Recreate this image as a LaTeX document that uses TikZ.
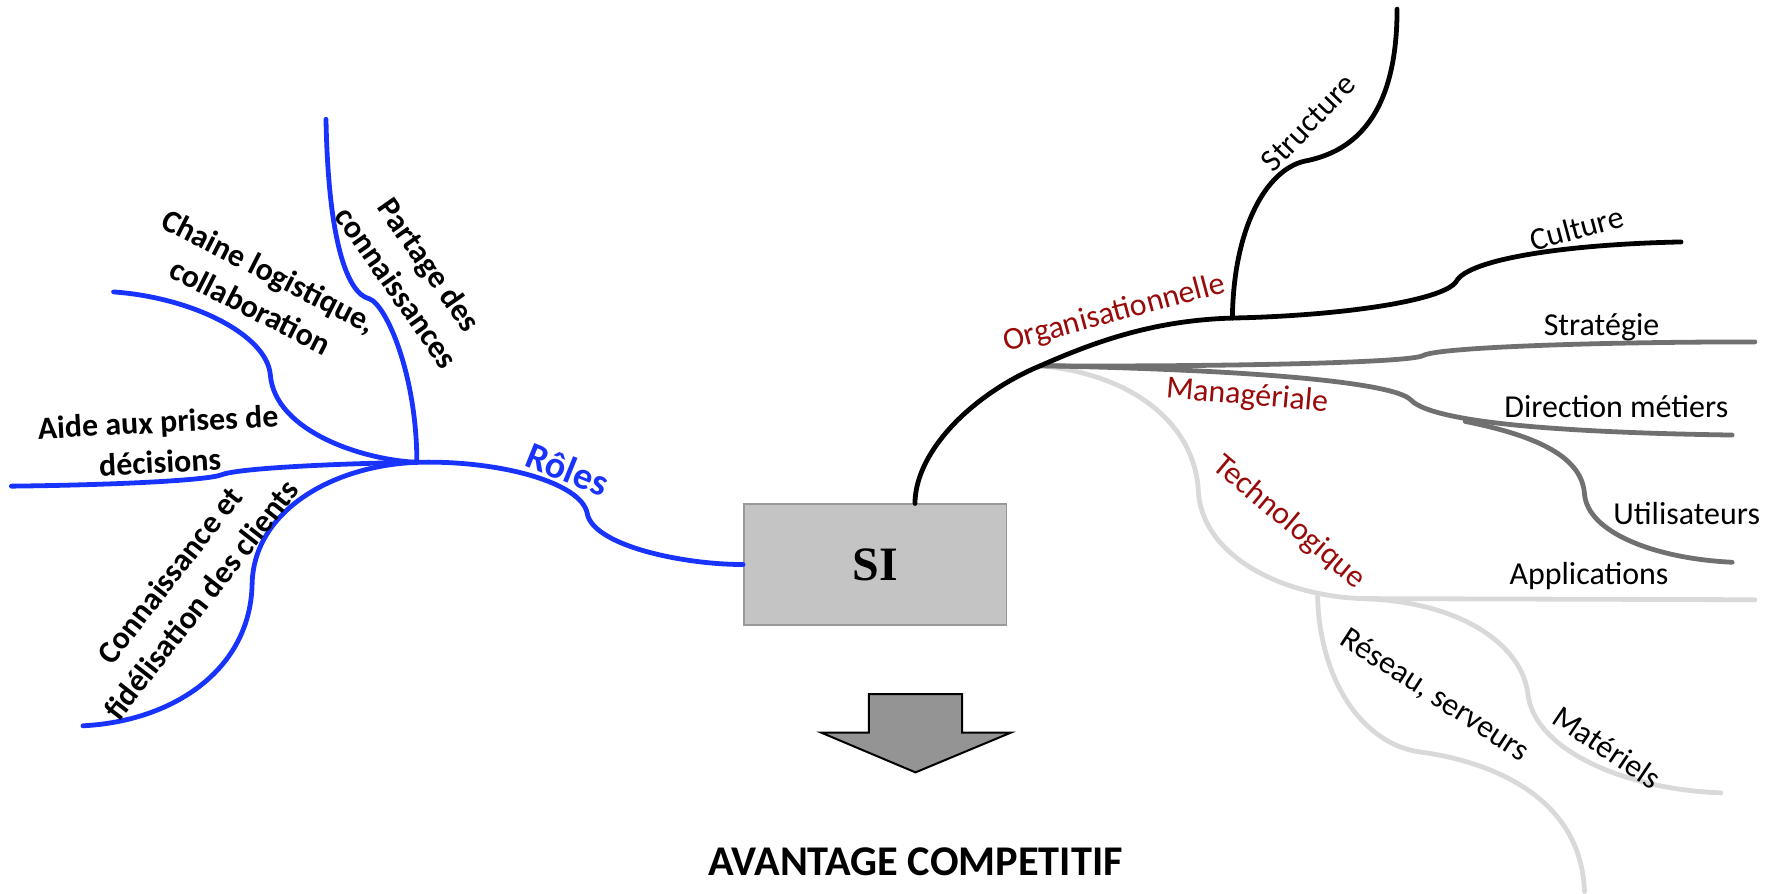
\documentclass[tikz,border=0pt]{standalone}
\usepackage{fontspec}
\setmainfont{Carlito}
\newfontfamily\serifbold{Liberation Serif}
\usetikzlibrary{positioning}
\definecolor{mblue}{rgb}{0.1, 0.2, 1}
\definecolor{mred}{rgb}{0.6, 0.04, 0.04}
\definecolor{mgray}{rgb}{0.44, 0.44, 0.44}
\definecolor{lgray}{rgb}{0.85, 0.85, 0.85}
\definecolor{boxgray}{rgb}{0.77, 0.77, 0.77}
\definecolor{arrowgray}{rgb}{0.58, 0.58, 0.58}
\tikzset{branch/.style = {line width=1.2pt, line cap=round},
         rolelabel/.style = {font=\fontsize{8}{10}\selectfont\bfseries, align=center, inner sep=0pt},
         sublabel/.style = {font=\fontsize{8}{10}\selectfont, inner sep=0pt},
         axislabel/.style = {sublabel, text=mred},
         sibox/.style = {fill=boxgray, draw=gray!80, line width=0.4pt,
                         minimum width=2.31cm, minimum height=1.06cm,
                         font=\serifbold\fontsize{12}{14}\selectfont\bfseries}}

\begin{document}
\begin{tikzpicture}[x=0.01cm, y=-0.01cm]
      \useasboundingbox (0, 0) rectangle (1568, 787);

      \node [sibox] (si) at (770.5, 497) {SI};
      \coordinate (hubL) at (367, 407);
      \coordinate (hubR) at (916, 322);
      \coordinate (hubO) at (1085, 280);
      \coordinate (hubD) at (1290, 371);
      \coordinate (hubT) at (1160, 525);
      \coordinate (hubA) at (1200, 527);
      \coordinate (orgStart) at ([xshift=3.5mm]si.north);

      \draw [branch, mblue] (hubL) .. controls (440, 405) and (512, 425) .. (517, 452) .. controls (522, 480) and (600, 497) .. (si.west);
      \draw [branch, mblue] (287, 105) .. controls (289, 210) and (305, 258) .. (325, 263) .. controls (340, 268) and (367, 330) .. (hubL);
      \draw [branch, mblue] (100, 257) .. controls (170, 262) and (235, 295) .. (238, 330) .. controls (242, 380) and (320, 405) .. (hubL);
      \draw [branch, mblue] (10, 428) .. controls (100, 427) and (182, 423) .. (195, 418) .. controls (210, 412) and (300, 408) .. (hubL);
      \draw [branch, mblue] (73, 639) .. controls (152, 635) and (221, 590) .. (222, 513) .. controls (224, 450) and (292, 410) .. (hubL);

      \draw [branch, lgray] (hubR) .. controls (1000, 330) and (1052, 375) .. (1055, 432) .. controls (1058, 490) and (1130, 525) .. (hubA) -- (1545, 528);
      \draw [branch, lgray] (hubT) .. controls (1162, 600) and (1200, 655) .. (1250, 662) .. controls (1310, 670) and (1392, 700) .. (1395, 785);
      \draw [branch, lgray] (hubA) .. controls (1290, 530) and (1340, 570) .. (1345, 610) .. controls (1350, 660) and (1430, 695) .. (1515, 698);

      \draw [branch, mgray] (hubR) .. controls (1050, 323) and (1240, 320) .. (1253, 313) .. controls (1265, 306) and (1400, 301) .. (1545, 301);
      \draw [branch, mgray] (hubR) .. controls (1080, 325) and (1225, 335) .. (1242, 352) .. controls (1255, 366) and (1320, 380) .. (1525, 383);
      \draw [branch, mgray] (hubD) .. controls (1360, 385) and (1393, 405) .. (1395, 435) .. controls (1398, 470) and (1460, 492) .. (1525, 495);

      \draw [branch] (orgStart) .. controls (806, 395) and (860, 345) .. (hubR) .. controls (970, 298) and (1020, 282) .. (hubO);
      \draw [branch] (hubO) .. controls (1180, 278) and (1270, 265) .. (1282, 248) .. controls (1292, 228) and (1380, 215) .. (1480, 213);
      \draw [branch] (hubO) .. controls (1086, 200) and (1115, 150) .. (1148, 142) .. controls (1185, 135) and (1230, 110) .. (1230, 8);

      \node [rolelabel, rotate=-55] (partage) at (364, 243) {Partage des\\connaissances};
      \node [rolelabel, rotate=-27] (chaine) at (229, 254) {Chaine logistique,\\collaboration};
      \node [rolelabel, rotate=3] (aide) at (140, 389) {Aide aux prises de\\décisions};
      \node [rolelabel, rotate=52] (clients) at (163, 517) {Connaissance et\\fidélisation des clients};
      \node [rolelabel, text=mblue, font=\fontsize{9.5}{11}\selectfont\bfseries, rotate=-22] (roles) at (500, 413) {Rôles};

      \node [axislabel, rotate=15] (orga) at (981, 276) {Organisationnelle};
      \node [axislabel, rotate=-5] (mana) at (1098, 349) {Managériale};
      \node [axislabel, rotate=-40] (techno) at (1135, 460) {Technologique};
      \node [sublabel, rotate=46] (structure) at (1152, 108) {Structure};
      \node [sublabel, rotate=15] (culture) at (1388, 201) {Culture};
      \node [sublabel] (strategie) at (1410, 288) {Stratégie};
      \node [sublabel] (direction) at (1423, 358) {Direction métiers};
      \node [sublabel] (utilisateurs) at (1485, 452) {Utilisateurs};
      \node [sublabel] (applications) at (1399, 507) {Applications};
      \node [sublabel, rotate=-33] (reseau) at (1263, 612) {Réseau, serveurs};
      \node [sublabel, rotate=-34] (materiels) at (1415, 658) {Matériels};

      \coordinate (arrowtip) at (806, 680);
      \draw [fill=arrowgray, line width=0.5pt] (765, 611) -- (847, 611) -- (847, 645) -- (890, 645) -- (arrowtip) -- (723, 645) -- (765, 645) -- cycle;
      \node [font=\fontsize{10.6}{12}\selectfont\bfseries, below=0.54cm of arrowtip] (gain) {AVANTAGE COMPETITIF};
    \end{tikzpicture}
\end{document}
